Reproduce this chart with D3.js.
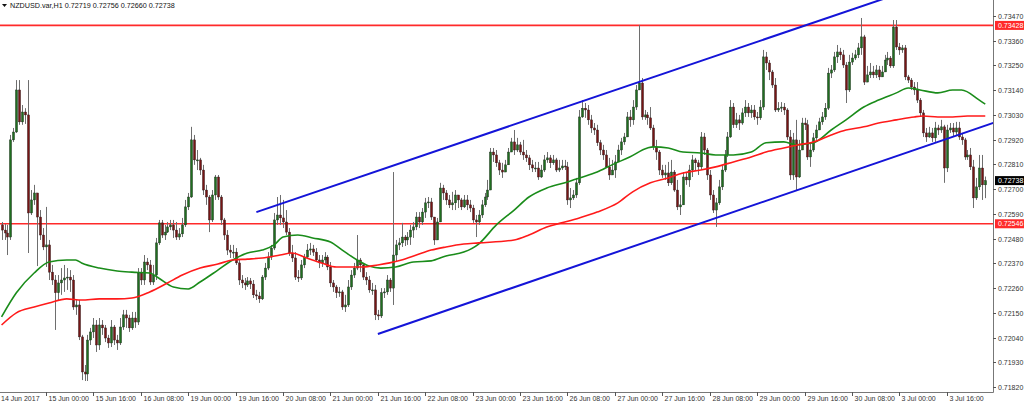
<!DOCTYPE html>
<html><head><meta charset="utf-8">
<script src="https://cdn.jsdelivr.net/npm/d3@7"></script>
<style>html,body{margin:0;padding:0;background:#fff;overflow:hidden}svg{display:block}text{font-family:"Liberation Sans",Arial,sans-serif}</style>
</head><body><svg id="c" width="1024" height="405"></svg>
<script>
const symbol = "NZDUSD.var,H1";
const firstOpen = 0.72541;
const closes = [0.72518,0.72505,0.72487,0.72919,0.72954,0.73141,0.72999,0.73043,0.73030,0.72594,0.72652,0.72683,0.72576,0.72496,0.72443,
0.72452,0.72331,0.72296,0.72239,0.72283,0.72296,0.72305,0.72309,0.72296,0.72176,0.72185,0.72043,0.71887,0.71878,0.72029,0.72065,
0.72096,0.72007,0.72096,0.72083,0.72038,0.72016,0.72087,0.72029,0.72016,0.72087,0.72141,0.72127,0.72083,0.72127,0.72109,0.72327,
0.72296,0.72376,0.72363,0.72287,0.72318,0.72461,0.72550,0.72496,0.72509,0.72532,0.72541,0.72518,0.72487,0.72501,0.72541,0.72621,
0.72665,0.72919,0.72830,0.72830,0.72785,0.72696,0.72665,0.72563,0.72674,0.72754,0.72665,0.72563,0.72496,0.72429,0.72420,0.72420,
0.72372,0.72296,0.72283,0.72274,0.72292,0.72278,0.72230,0.72225,0.72212,0.72309,0.72349,0.72398,0.72438,0.72563,0.72585,0.72572,
0.72554,0.72509,0.72416,0.72394,0.72309,0.72305,0.72363,0.72398,0.72429,0.72434,0.72420,0.72385,0.72372,0.72385,0.72398,0.72354,
0.72283,0.72265,0.72239,0.72243,0.72176,0.72185,0.72265,0.72318,0.72349,0.72385,0.72363,0.72309,0.72296,0.72252,0.72252,0.72141,
0.72136,0.72239,0.72243,0.72296,0.72260,0.72407,0.72452,0.72461,0.72487,0.72474,0.72487,0.72518,0.72532,0.72576,0.72554,0.72598,
0.72639,0.72643,0.72576,0.72474,0.72554,0.72705,0.72683,0.72652,0.72630,0.72639,0.72674,0.72652,0.72621,0.72652,0.72630,0.72616,
0.72563,0.72554,0.72585,0.72630,0.72665,0.72696,0.72865,0.72852,0.72817,0.72785,0.72776,0.72808,0.72865,0.72910,0.72874,0.72897,
0.72865,0.72852,0.72839,0.72808,0.72794,0.72794,0.72754,0.72785,0.72830,0.72839,0.72817,0.72830,0.72785,0.72794,0.72803,0.72799,
0.72652,0.72661,0.72674,0.72728,0.73021,0.73060,0.73052,0.73008,0.72972,0.72963,0.72906,0.72874,0.72852,0.72799,0.72763,0.72785,
0.72821,0.72874,0.72910,0.72932,0.73021,0.73008,0.73065,0.73141,0.73172,0.73021,0.73030,0.73017,0.72972,0.72888,0.72865,0.72785,
0.72763,0.72772,0.72728,0.72776,0.72696,0.72621,0.72630,0.72754,0.72741,0.72785,0.72830,0.72817,0.72799,0.72932,0.72874,0.72763,
0.72674,0.72607,0.72639,0.72710,0.72785,0.72852,0.72932,0.73065,0.72986,0.73008,0.72994,0.73039,0.73065,0.73039,0.73052,0.73021,
0.73017,0.73065,0.73288,0.73261,0.73221,0.73163,0.73052,0.73060,0.73065,0.73052,0.72932,0.72763,0.72919,0.72754,0.72874,0.72994,
0.72986,0.72843,0.72874,0.72928,0.72963,0.72999,0.73021,0.73060,0.73216,0.73230,0.73288,0.73310,0.73297,0.73252,0.73141,0.73265,
0.73283,0.73297,0.73328,0.73377,0.73176,0.73208,0.73221,0.73208,0.73230,0.73199,0.73221,0.73274,0.73283,0.73248,0.73421,0.73332,
0.73319,0.73328,0.73199,0.73185,0.73154,0.73141,0.73096,0.73039,0.72950,0.72932,0.72950,0.72928,0.72972,0.72963,0.72977,0.72794,
0.72963,0.72972,0.72954,0.72972,0.72932,0.72919,0.72843,0.72852,0.72799,0.72661,0.72710,0.72794,0.72719,0.72738];
const highs = [0.72554,0.72545,0.72541,0.72941,0.72972,0.73185,0.73185,0.73074,0.73060,0.73185,0.72696,0.72719,0.72674,0.72607,0.72527,
0.72621,0.72474,0.72363,0.72318,0.72318,0.72349,0.72363,0.72349,0.72340,0.72318,0.72207,0.72207,0.72052,0.71918,0.72052,0.72083,
0.72127,0.72118,0.72127,0.72118,0.72096,0.72052,0.72118,0.72096,0.72052,0.72127,0.72163,0.72163,0.72141,0.72154,0.72154,0.72349,
0.72349,0.72407,0.72394,0.72385,0.72363,0.72483,0.72563,0.72563,0.72541,0.72554,0.72563,0.72563,0.72554,0.72527,0.72572,0.72652,
0.72683,0.72977,0.72941,0.72874,0.72839,0.72808,0.72719,0.72674,0.72696,0.72763,0.72763,0.72674,0.72572,0.72518,0.72452,0.72452,
0.72438,0.72385,0.72318,0.72305,0.72309,0.72305,0.72296,0.72252,0.72243,0.72318,0.72372,0.72420,0.72452,0.72594,0.72665,0.72674,
0.72652,0.72607,0.72527,0.72452,0.72420,0.72340,0.72385,0.72412,0.72456,0.72461,0.72452,0.72438,0.72407,0.72407,0.72420,0.72407,
0.72376,0.72296,0.72274,0.72265,0.72252,0.72230,0.72296,0.72340,0.72372,0.72496,0.72394,0.72372,0.72331,0.72314,0.72283,0.72274,
0.72163,0.72260,0.72260,0.72318,0.72305,0.72776,0.72474,0.72483,0.72550,0.72496,0.72509,0.72541,0.72554,0.72598,0.72598,0.72616,
0.72661,0.72665,0.72661,0.72572,0.72572,0.72728,0.72719,0.72696,0.72674,0.72688,0.72696,0.72674,0.72661,0.72674,0.72674,0.72652,
0.72630,0.72585,0.72607,0.72652,0.72683,0.72741,0.72883,0.72883,0.72874,0.72830,0.72817,0.72830,0.72883,0.72928,0.72963,0.72928,
0.72910,0.72919,0.72874,0.72852,0.72830,0.72821,0.72821,0.72808,0.72852,0.72865,0.72852,0.72852,0.72839,0.72830,0.72830,0.72830,
0.72821,0.72705,0.72696,0.72750,0.73052,0.73096,0.73083,0.73074,0.73030,0.72994,0.72986,0.72919,0.72897,0.72874,0.72839,0.72830,
0.72852,0.72897,0.72928,0.72950,0.73043,0.73052,0.73096,0.73163,0.73430,0.73194,0.73052,0.73043,0.73065,0.72986,0.72919,0.72874,
0.72808,0.72808,0.72821,0.72830,0.72785,0.72741,0.72674,0.72776,0.72776,0.72808,0.72852,0.72839,0.72830,0.72954,0.72950,0.72883,
0.72785,0.72696,0.72661,0.72741,0.72808,0.72874,0.72954,0.73096,0.73083,0.73039,0.73030,0.73060,0.73096,0.73083,0.73074,0.73074,
0.73043,0.73096,0.73319,0.73310,0.73274,0.73230,0.73194,0.73087,0.73087,0.73083,0.73060,0.72963,0.72950,0.73008,0.72919,0.73017,
0.73017,0.73008,0.72906,0.72950,0.72986,0.73017,0.73043,0.73083,0.73239,0.73252,0.73310,0.73341,0.73328,0.73319,0.73265,0.73297,
0.73306,0.73319,0.73350,0.73461,0.73386,0.73248,0.73261,0.73248,0.73252,0.73248,0.73248,0.73297,0.73310,0.73292,0.73452,0.73452,
0.73350,0.73341,0.73341,0.73208,0.73194,0.73176,0.73176,0.73105,0.73052,0.72972,0.72977,0.72972,0.72999,0.72986,0.73008,0.72986,
0.72986,0.72994,0.72994,0.72999,0.72999,0.72950,0.72928,0.72874,0.72883,0.72830,0.72750,0.72852,0.72852,0.72756];
const lows = [0.72474,0.72474,0.72407,0.72474,0.72910,0.72950,0.72986,0.72986,0.72990,0.72416,0.72585,0.72630,0.72358,0.72474,0.72429,
0.72354,0.72296,0.72274,0.72074,0.72207,0.72230,0.72243,0.72252,0.72243,0.72163,0.72141,0.72029,0.71851,0.71847,0.71847,0.72007,
0.72038,0.71976,0.71985,0.72052,0.72020,0.71994,0.71998,0.72007,0.71985,0.72007,0.72074,0.72083,0.72065,0.72074,0.72083,0.72096,
0.72274,0.72274,0.72340,0.72274,0.72274,0.72296,0.72452,0.72483,0.72474,0.72505,0.72518,0.72483,0.72474,0.72474,0.72487,0.72532,
0.72607,0.72661,0.72808,0.72785,0.72763,0.72674,0.72630,0.72509,0.72554,0.72652,0.72652,0.72541,0.72474,0.72407,0.72394,0.72394,
0.72363,0.72274,0.72260,0.72252,0.72265,0.72256,0.72216,0.72207,0.72194,0.72207,0.72296,0.72340,0.72385,0.72429,0.72541,0.72541,
0.72527,0.72496,0.72403,0.72376,0.72296,0.72287,0.72296,0.72349,0.72394,0.72407,0.72403,0.72376,0.72349,0.72354,0.72363,0.72340,
0.72265,0.72243,0.72216,0.72221,0.72163,0.72154,0.72176,0.72252,0.72305,0.72340,0.72331,0.72296,0.72274,0.72239,0.72230,0.72118,
0.72118,0.72127,0.72216,0.72230,0.72243,0.72185,0.72376,0.72429,0.72443,0.72447,0.72452,0.72452,0.72483,0.72518,0.72527,0.72541,
0.72572,0.72616,0.72563,0.72452,0.72474,0.72554,0.72652,0.72630,0.72616,0.72607,0.72607,0.72616,0.72607,0.72616,0.72607,0.72598,
0.72550,0.72487,0.72541,0.72572,0.72621,0.72652,0.72741,0.72821,0.72799,0.72763,0.72750,0.72776,0.72821,0.72865,0.72852,0.72865,
0.72852,0.72830,0.72821,0.72785,0.72776,0.72776,0.72741,0.72750,0.72776,0.72817,0.72794,0.72808,0.72776,0.72776,0.72785,0.72785,
0.72630,0.72616,0.72652,0.72661,0.72719,0.73017,0.73017,0.72986,0.72950,0.72941,0.72892,0.72852,0.72830,0.72794,0.72741,0.72763,
0.72750,0.72821,0.72852,0.72897,0.72932,0.72977,0.72986,0.73052,0.73141,0.73008,0.73008,0.72986,0.72963,0.72874,0.72830,0.72763,
0.72750,0.72741,0.72714,0.72719,0.72688,0.72607,0.72585,0.72630,0.72719,0.72710,0.72754,0.72785,0.72763,0.72785,0.72852,0.72741,
0.72652,0.72594,0.72532,0.72630,0.72696,0.72776,0.72843,0.72928,0.72972,0.72972,0.72963,0.72986,0.73021,0.73021,0.73017,0.73008,
0.72986,0.73008,0.73052,0.73230,0.73185,0.73150,0.73043,0.73043,0.73043,0.73030,0.72919,0.72741,0.72741,0.72696,0.72750,0.72874,
0.72963,0.72830,0.72799,0.72865,0.72919,0.72963,0.72986,0.73008,0.73052,0.73194,0.73221,0.73261,0.73274,0.73239,0.73083,0.73132,
0.73252,0.73274,0.73283,0.73297,0.73163,0.73176,0.73194,0.73194,0.73194,0.73185,0.73203,0.73221,0.73252,0.73239,0.73239,0.73319,
0.73297,0.73306,0.73185,0.73172,0.73141,0.73119,0.73083,0.73021,0.72932,0.72910,0.72928,0.72910,0.72910,0.72941,0.72950,0.72728,
0.72776,0.72950,0.72932,0.72941,0.72919,0.72897,0.72830,0.72830,0.72785,0.72616,0.72652,0.72696,0.72652,0.72660];
const firstLabel = "14 Jun 2017";
const timeLabels = ["15 Jun 00:00","15 Jun 16:00","16 Jun 08:00","19 Jun 00:00","19 Jun 16:00","20 Jun 08:00","21 Jun 00:00","21 Jun 16:00","22 Jun 08:00","23 Jun 00:00","23 Jun 16:00","26 Jun 08:00","27 Jun 00:00","27 Jun 16:00","28 Jun 08:00","29 Jun 00:00","29 Jun 16:00","30 Jun 08:00","3 Jul 00:00","3 Jul 16:00"];
const priceTicks = [0.71820,0.71930,0.72040,0.72150,0.72260,0.72370,0.72480,0.72590,0.72700,0.72810,0.72920,0.73030,0.73140,0.73250,0.73360,0.73470];
const levels = [0.73428, 0.72546];
const greenMaIdx = [0,5,11,16,22,25,27,33,39,44,50,53,58,63,67,73,78,83,88,92,95,100,105,111,115,120,124,128,133,139,145,150,156,161,167,173,178,184,191,195,201,206,212,218,220,225,230,236,241,247,253,258,264,268,274,280,285,291,296,302,306,310,316,321,324,330,332];
const greenMaVal = [0.72132,0.72239,0.72327,0.72376,0.72385,0.72385,0.72372,0.72349,0.72336,0.72331,0.72327,0.72305,0.72265,0.72256,0.72287,0.72340,0.72385,0.72416,0.72429,0.72452,0.72487,0.72496,0.72483,0.72465,0.72429,0.72385,0.72358,0.72349,0.72354,0.72376,0.72381,0.72403,0.72420,0.72456,0.72541,0.72607,0.72665,0.72705,0.72732,0.72750,0.72776,0.72808,0.72843,0.72883,0.72888,0.72883,0.72865,0.72861,0.72852,0.72852,0.72865,0.72906,0.72910,0.72897,0.72906,0.72963,0.73008,0.73065,0.73096,0.73128,0.73150,0.73141,0.73128,0.73141,0.73141,0.73096,0.73078];
const redMaIdx = [0,5,11,16,22,27,33,39,44,50,56,61,67,73,78,83,88,94,98,103,108,113,118,122,127,131,135,140,145,150,156,161,173,178,184,189,195,201,208,213,219,225,230,236,241,247,253,258,264,269,274,280,285,291,296,302,308,311,316,321,326,332];
const redMaVal = [0.72096,0.72150,0.72176,0.72194,0.72212,0.72207,0.72212,0.72212,0.72216,0.72243,0.72283,0.72318,0.72349,0.72367,0.72385,0.72389,0.72394,0.72407,0.72416,0.72394,0.72372,0.72354,0.72354,0.72354,0.72363,0.72372,0.72385,0.72407,0.72429,0.72443,0.72456,0.72461,0.72474,0.72496,0.72532,0.72550,0.72572,0.72598,0.72639,0.72688,0.72728,0.72750,0.72772,0.72785,0.72799,0.72821,0.72843,0.72865,0.72883,0.72897,0.72910,0.72941,0.72963,0.72977,0.72994,0.73008,0.73021,0.73025,0.73021,0.73021,0.73025,0.73025];
const channelUpper = [[86, 0.72598], [303, 0.73570]];
const channelLower = [[127, 0.72056], [335, 0.72996]];

const W = 1024, H = 405, plotR = 993, plotB = 392;
const svg = d3.select("#c");
svg.append("rect").attr("width", W).attr("height", H).attr("fill", "#fff");
const x = d3.scaleLinear().domain([0, 335]).range([1.555, 1.555 + 2.963 * 335]);
const y = d3.scaleLinear().domain([0.71798, 0.73541]).range([plotB, 0]);

svg.append("defs").append("clipPath").attr("id", "clip").append("rect").attr("x", 0).attr("y", 0).attr("width", plotR).attr("height", plotB);
const g = svg.append("g").attr("clip-path", "url(#clip)");

const bars = closes.map((c, i) => {
  const o = i ? closes[i - 1] : firstOpen;
  return {i, o, c, h: Math.max(highs[i], o, c), l: Math.min(lows[i], o, c)};
});

// levels
g.selectAll("line.lvl").data(levels).enter().append("line")
  .attr("x1", 0).attr("x2", plotR).attr("y1", d => y(d)).attr("y2", d => y(d))
  .attr("stroke", "#ff2a2a").attr("stroke-width", 1.6);

// wicks
g.selectAll("line.wick").data(bars).enter().append("line")
  .attr("x1", d => Math.round(x(d.i)) + 0.5).attr("x2", d => Math.round(x(d.i)) + 0.5)
  .attr("y1", d => y(d.h)).attr("y2", d => y(d.l))
  .attr("stroke", "#6e6e6e").attr("stroke-width", 1);
// bodies
g.selectAll("rect.body").data(bars).enter().append("rect")
  .attr("x", d => Math.round(x(d.i)) - 0.6).attr("width", 2.2)
  .attr("y", d => y(Math.max(d.o, d.c)))
  .attr("height", d => Math.max(1, Math.abs(y(d.o) - y(d.c))))
  .attr("fill", d => d.c >= d.o ? "#1f6e1f" : "#761515")
  .attr("stroke", "#1a1a1a").attr("stroke-width", 0.35);

// moving averages
const maLine = d3.line().x(d => x(d[0])).y(d => y(d[1])).curve(d3.curveMonotoneX);
g.append("path").datum(greenMaIdx.map((k, j) => [k, greenMaVal[j]]))
  .attr("d", maLine).attr("fill", "none").attr("stroke", "#1a8c1a").attr("stroke-width", 1.6);
g.append("path").datum(redMaIdx.map((k, j) => [k, redMaVal[j]]))
  .attr("d", maLine).attr("fill", "none").attr("stroke", "#ff1a1a").attr("stroke-width", 1.6);

// channel
[channelUpper, channelLower].forEach(seg => {
  g.append("line").attr("x1", x(seg[0][0])).attr("y1", y(seg[0][1]))
    .attr("x2", x(seg[1][0])).attr("y2", y(seg[1][1]))
    .attr("stroke", "#1414d8").attr("stroke-width", 2);
});

// header
svg.append("path").attr("d", "M2,4 L7,4 L4.5,7 Z").attr("fill", "#111");
svg.append("text").attr("x", 10).attr("y", 8).attr("font-size", 7.2).attr("fill", "#111")
  .text(symbol + "  " + [bars[bars.length-1].o, highs[highs.length-1], lows[lows.length-1], closes[closes.length-1]].map(v => v.toFixed(5)).join(" "));

// frame
svg.append("line").attr("x1", 0).attr("x2", plotR + 0.5).attr("y1", plotB + 0.5).attr("y2", plotB + 0.5).attr("stroke", "#777");
svg.append("line").attr("x1", plotR + 0.5).attr("x2", plotR + 0.5).attr("y1", 0).attr("y2", plotB + 0.5).attr("stroke", "#777");

// y axis
const ya = svg.append("g");
priceTicks.forEach(p => {
  const yy = Math.round(y(p)) + 0.5;
  ya.append("line").attr("x1", plotR).attr("x2", plotR + 3).attr("y1", yy).attr("y2", yy).attr("stroke", "#555");
  ya.append("text").attr("x", 998).attr("y", yy).attr("dy", "0.35em").attr("font-size", 7).attr("fill", "#333").text(p.toFixed(5));
});
// level labels
levels.forEach(p => {
  ya.append("rect").attr("x", 995).attr("y", y(p) - 4.5).attr("width", 29).attr("height", 9).attr("fill", "#ff2a2a");
  ya.append("text").attr("x", 998).attr("y", y(p)).attr("dy", "0.35em").attr("font-size", 7).attr("fill", "#fff").text(p.toFixed(5));
});
const last = closes[closes.length - 1];
ya.append("rect").attr("x", 995).attr("y", y(last) - 4.5).attr("width", 29).attr("height", 9).attr("fill", "#000");
ya.append("text").attr("x", 998).attr("y", y(last)).attr("dy", "0.35em").attr("font-size", 7).attr("fill", "#fff").text(last.toFixed(5));

// x axis
const xa = svg.append("g");
xa.append("text").attr("x", 1).attr("y", 401).attr("font-size", 7).attr("fill", "#333").text(firstLabel);
timeLabels.forEach((t, j) => {
  const xx = Math.round(x(15 + 16 * j)) + 0.5;
  xa.append("line").attr("x1", xx).attr("x2", xx).attr("y1", plotB).attr("y2", plotB + 4).attr("stroke", "#555");
  xa.append("text").attr("x", xx + 2).attr("y", 401).attr("font-size", 7).attr("fill", "#333").text(t);
});
</script></body></html>
